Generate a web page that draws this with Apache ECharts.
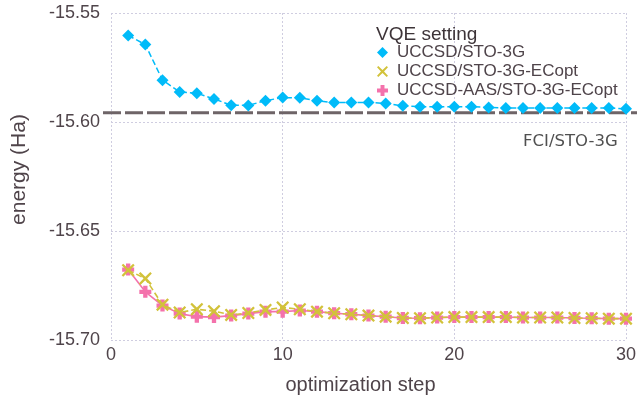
<!DOCTYPE html>
<html><head><meta charset="utf-8">
<script src="https://cdn.jsdelivr.net/npm/echarts@6/dist/echarts.min.js"></script>
<style>html,body{margin:0;padding:0;background:#fff}#c{width:639px;height:400px}</style>
</head><body><div id="c"></div>
<script>
const steps = [1,2,3,4,5,6,7,8,9,10,11,12,13,14,15,16,17,18,19,20,21,22,23,24,25,26,27,28,29,30];
const uccsd = [-15.5603,-15.5645,-15.5808,-15.5862,-15.5868,-15.5894,-15.5923,-15.5924,-15.5902,-15.5888,
  -15.5889,-15.5903,-15.5911,-15.5911,-15.5910,-15.5915,-15.5926,-15.5930,-15.5930,-15.5930,
  -15.5930,-15.5933,-15.5936,-15.5936,-15.5936,-15.5936,-15.5936,-15.5936,-15.5936,-15.5939];
const uccsdEcopt = [-15.6680,-15.6718,-15.6838,-15.6874,-15.6859,-15.6868,-15.6885,-15.6876,-15.6862,-15.6851,
  -15.6859,-15.6870,-15.6877,-15.6882,-15.6888,-15.6893,-15.6899,-15.6900,-15.6897,-15.6895,
  -15.6895,-15.6895,-15.6895,-15.6897,-15.6897,-15.6897,-15.6899,-15.6900,-15.6902,-15.6902];
const aasEcopt = [-15.6677,-15.6779,-15.6842,-15.6879,-15.6893,-15.6895,-15.6888,-15.6879,-15.6870,-15.6870,
  -15.6865,-15.6870,-15.6877,-15.6882,-15.6888,-15.6893,-15.6899,-15.6900,-15.6897,-15.6895,
  -15.6895,-15.6895,-15.6895,-15.6897,-15.6897,-15.6897,-15.6899,-15.6900,-15.6902,-15.6902];
const fciEnergy = -15.5953;
const seriesNames = ['UCCSD/STO-3G','UCCSD/STO-3G-ECopt','UCCSD-AAS/STO-3G-ECopt'];
const fciLabel = 'FCI/STO-3G';
const legendTitle = 'VQE setting';
const xTicks = {min:0, max:30, interval:10};
const yTicks = {min:-15.70, max:-15.55, interval:0.05};

const FONT = 'Liberation Sans, Arial, sans-serif';
const TXT = '#4f444a';
const GRIDC = '#cfcde0';
const cBlue = '#00bbf9', cYel = '#d2c23a', cPink = '#f472ac';
const xPath = 'path://M0,1.2L1.2,0L5,3.6L8.8,0L10,1.2L6.4,5L10,8.8L8.8,10L5,6.4L1.2,10L0,8.8L3.6,5Z';
const plusPath = 'path://M3.2,0H6.8V3.2H10V6.8H6.8V10H3.2V6.8H0V3.2H3.2Z';

const chart = echarts.init(document.getElementById('c'), null, {renderer:'canvas'});
const pair = (ys) => steps.map((s,i)=>[s, ys[i]]);
chart.setOption({
  animation:false,
  backgroundColor:'#fff',
  textStyle:{fontFamily:FONT},
  title:[
    {text:legendTitle, left:371, top:20, textStyle:{fontFamily:FONT, fontSize:19, fontWeight:'normal', color:'#3d3438'}},
    {text:fciLabel, left:518, top:128, textStyle:{fontFamily:'DejaVu Sans, sans-serif', fontSize:16.5, fontWeight:'normal', color:'#505050'}}
  ],
  legend:{
    orient:'vertical', left:372, top:39, itemGap:2, itemWidth:11, itemHeight:11,
    textStyle:{fontFamily:FONT, fontSize:17, color:TXT, padding:[0,0,0,4]},
    data:[
      {name:seriesNames[0], icon:'diamond', itemStyle:{color:cBlue}},
      {name:seriesNames[1], icon:xPath, itemStyle:{color:cYel}},
      {name:seriesNames[2], icon:plusPath, itemStyle:{color:cPink}}
    ]
  },
  grid:[
    {left:111, right:10, top:13, bottom:57, containLabel:false},
    {left:103, right:2, top:13, bottom:57, containLabel:false}
  ],
  xAxis:[
    {type:'value', gridIndex:0, min:xTicks.min, max:xTicks.max, interval:xTicks.interval,
     name:'optimization step', nameLocation:'middle', nameGap:35,
     nameTextStyle:{fontFamily:FONT, fontSize:20, color:TXT, padding:[0,16,0,0]},
     axisLine:{show:false}, axisTick:{show:false},
     axisLabel:{fontFamily:FONT, fontSize:18, color:TXT, margin:6},
     splitLine:{show:true, lineStyle:{color:GRIDC, type:[2,2], width:1}}},
    {type:'value', gridIndex:1, min:0, max:1, show:false}
  ],
  yAxis:[
    {type:'value', gridIndex:0, min:yTicks.min, max:yTicks.max, interval:yTicks.interval,
     name:'energy (Ha)', nameLocation:'middle', nameGap:81,
     nameTextStyle:{fontFamily:FONT, fontSize:21, color:TXT, padding:[0,0,0,14]},
     axisLine:{show:false}, axisTick:{show:false},
     axisLabel:{fontFamily:FONT, fontSize:18, color:TXT, margin:11, formatter:(v)=>v.toFixed(2)},
     splitLine:{show:true, lineStyle:{color:GRIDC, type:[2,2], width:1}}},
    {type:'value', gridIndex:1, min:yTicks.min, max:yTicks.max, show:false}
  ],
  series:[
    {type:'line', name:'fci', xAxisIndex:1, yAxisIndex:1, z:1, silent:true,
     data:[[0,fciEnergy],[1,fciEnergy]], symbol:'none',
     lineStyle:{color:'#6e6467', width:3, type:[18,4]}},
    {type:'line', name:seriesNames[2], data:pair(aasEcopt), clip:false, z:3,
     symbol:plusPath, symbolSize:12, itemStyle:{color:cPink},
     lineStyle:{color:cPink, width:1.6}},
    {type:'line', name:seriesNames[1], data:pair(uccsdEcopt), clip:false, z:4,
     symbol:xPath, symbolSize:13, itemStyle:{color:cYel},
     lineStyle:{color:cYel, width:1.6, type:[6,3]}},
    {type:'line', name:seriesNames[0], data:pair(uccsd), clip:false, z:5,
     symbol:'diamond', symbolSize:12, itemStyle:{color:cBlue},
     lineStyle:{color:cBlue, width:1.5, type:[6,3]}}
  ]
});
</script></body></html>
